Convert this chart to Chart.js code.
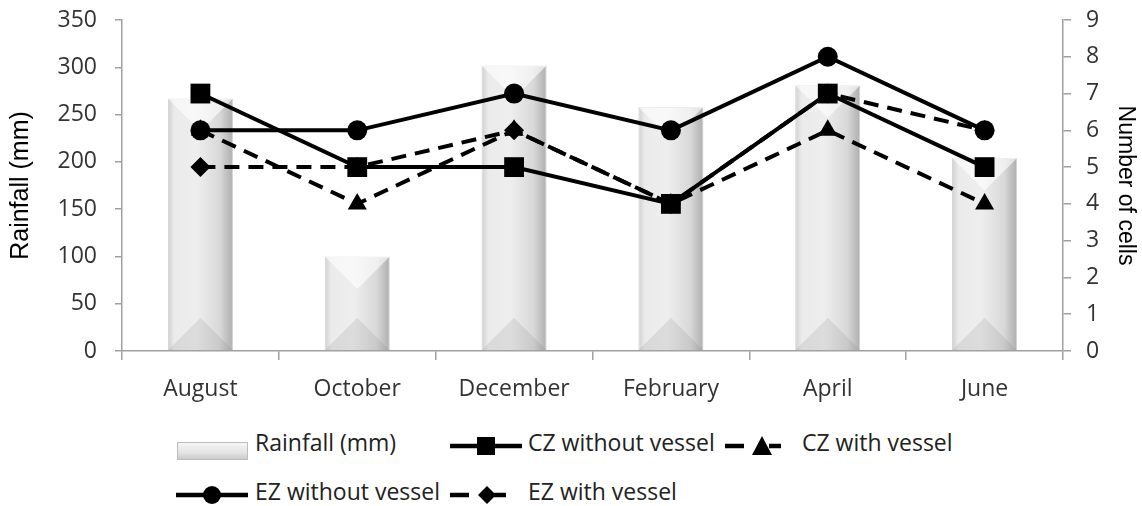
<!DOCTYPE html>
<html>
<head>
<meta charset="utf-8">
<script src="https://cdn.jsdelivr.net/npm/chart.js@4.4.1/dist/chart.umd.min.js"></script>
<style>
  html, body { margin: 0; padding: 0; background: #fff; }
  #wrap { position: relative; width: 1142px; height: 506px; overflow: hidden; }
  #chartBox { position: absolute; left: 0; top: 0; width: 1142px; height: 407px; }
  .legend { position: absolute; left: 0; top: 0; font-family: "Open Sans", sans-serif; font-size: 23px; color: #222; }
  .icon { position: absolute; display: block; }
  .txt { position: absolute; white-space: nowrap; line-height: 30px; }
</style>
</head>
<body>
<div id="wrap">
  <div id="chartBox"><canvas id="rainChart"></canvas></div>
  <div class="legend" id="legend"></div>
</div>
<script>
(() => {
  'use strict'

  // Data
  const months = ['August', 'October', 'December', 'February', 'April', 'June'];
  const rainfall = [267, 100, 302, 258, 281, 204];
  const czWithout = [7, 5, 5, 4, 7, 5];
  const czWith = [6, 4, 6, 4, 6, 4];
  const ezWithout = [6, 6, 7, 6, 8, 6];
  const ezWith = [5, 5, 6, 4, 7, 6];
  const rainTicks = [0, 50, 100, 150, 200, 250, 300, 350];
  const cellTicks = [0, 1, 2, 3, 4, 5, 6, 7, 8, 9];

  const tickFont = { family: '"Open Sans", sans-serif', size: 23 };
  const axisGray = '#a0a0a0';
  const barFrac = 0.415;

  // bar gradient: light middle, grey edges
  const barFill = (c) => {
    const chart = c.chart;
    const xs = chart.scales.x;
    if (!xs || !xs.width) return '#e6e6e6';
    const cx = xs.getPixelForValue(c.dataIndex);
    const half = xs.width / months.length * barFrac / 2;
    if (!isFinite(cx) || !isFinite(half)) return '#e6e6e6';
    const g = chart.ctx.createLinearGradient(cx - half, 0, cx + half, 0);
    g.addColorStop(0, '#cfcfcf');
    g.addColorStop(0.1, '#ebebeb');
    g.addColorStop(0.45, '#eeeeee');
    g.addColorStop(0.8, '#d8d8d8');
    g.addColorStop(1, '#aeaeae');
    return g;
  };

  // beveled ends on the rainfall bars
  const bevel = {
    id: 'bevel',
    afterDatasetDraw(chart, args) {
      if (args.index !== 0) return;
      const ctx = chart.ctx;
      chart.getDatasetMeta(0).data.forEach(bar => {
        const l = bar.x - bar.width / 2, r = bar.x + bar.width / 2;
        const t = bar.y, b = bar.base, d = bar.width / 2;
        ctx.save();
        ctx.fillStyle = 'rgba(255,255,255,0.6)';
        ctx.beginPath();
        ctx.moveTo(l, t); ctx.lineTo(r, t); ctx.lineTo(bar.x, t + d); ctx.closePath();
        ctx.fill();
        ctx.fillStyle = 'rgba(110,110,110,0.14)';
        ctx.beginPath();
        ctx.moveTo(l, b); ctx.lineTo(r, b); ctx.lineTo(bar.x, b - d); ctx.closePath();
        ctx.fill();
        ctx.restore();
      });
    }
  };

  const lineSet = (label, values, style, radius, dashed) => ({
    type: 'line',
    label: label,
    data: values,
    yAxisID: 'y1',
    borderColor: '#000',
    backgroundColor: '#000',
    borderWidth: 4,
    borderDash: dashed ? [15, 9] : [],
    pointStyle: style,
    pointRadius: radius,
    pointBorderWidth: 0,
    tension: 0
  });

  const data = {
    labels: months,
    datasets: [
      {
        type: 'bar',
        label: 'Rainfall (mm)',
        data: rainfall,
        yAxisID: 'y',
        backgroundColor: barFill,
        borderColor: '#d2d2d2',
        borderWidth: 1,
        barPercentage: 0.7,
        categoryPercentage: barFrac / 0.7,
        order: 10
      },
      lineSet('EZ with vessel', ezWith, 'rectRot', 10, true),
      lineSet('CZ with vessel', czWith, 'triangle', 11, true),
      lineSet('CZ without vessel', czWithout, 'rect', 14, false),
      lineSet('EZ without vessel', ezWithout, 'circle', 10, false)
    ]
  };

  // fixed widths; drop the extra top/bottom room Chart.js keeps for tick labels
  const fitY = (w) => (s) => { s.width = w; s.paddingTop = 0; s.paddingBottom = 0; };

  const config = {
    data: data,
    plugins: [bevel],
    options: {
      responsive: true,
      maintainAspectRatio: false,
      animation: false,
      layout: { padding: { top: 20, left: 2, right: 0, bottom: 0 } },
      plugins: {
        legend: { display: false },
        tooltip: { enabled: false }
      },
      scales: {
        x: {
          offset: true,
          afterFit: (s) => { s.height = 56; },
          grid: { display: true, offset: true, drawOnChartArea: false, color: axisGray, lineWidth: 1.5, tickLength: 9 },
          border: { color: axisGray, width: 1.5 },
          ticks: { font: tickFont, color: '#333', padding: 16, maxRotation: 0 }
        },
        y: {
          position: 'left',
          min: 0, max: 350,
          afterFit: fitY(120),
          afterBuildTicks: (ax) => { ax.ticks = rainTicks.map(v => ({ value: v })); },
          grid: { drawOnChartArea: false, color: axisGray, lineWidth: 1.5, tickLength: 7 },
          border: { color: axisGray, width: 1.5 },
          ticks: { font: tickFont, color: '#333', padding: 18 },
          title: {
            display: true, text: 'Rainfall (mm)', color: '#000',
            font: { family: '"Liberation Sans", Arial, sans-serif', size: 25 },
            padding: { top: 4, bottom: 4 }
          }
        },
        y1: {
          position: 'right',
          min: 0, max: 9,
          afterFit: fitY(79),
          afterBuildTicks: (ax) => { ax.ticks = cellTicks.map(v => ({ value: v })); },
          grid: { drawOnChartArea: false, color: axisGray, lineWidth: 1.5, tickLength: 8 },
          border: { color: axisGray, width: 1.5 },
          ticks: { font: tickFont, color: '#333', padding: 15 },
          title: {
            display: true, text: 'Number of cells', color: '#000',
            font: { family: '"Liberation Sans", Arial, sans-serif', size: 23 },
            padding: { top: 3, bottom: 2 }
          }
        }
      }
    }
  };

  new Chart(document.getElementById('rainChart'), config);

  // Legend (HTML, labels taken from the datasets)
  const marker = (shape, cx) => {
    if (shape === 'rect') return '<rect x="' + (cx - 9) + '" y="2" width="18" height="18" fill="#000"/>';
    if (shape === 'circle') return '<circle cx="' + cx + '" cy="11" r="9" fill="#000"/>';
    if (shape === 'triangle') return '<polygon points="' + cx + ',1 ' + (cx + 10) + ',20 ' + (cx - 10) + ',20" fill="#000"/>';
    return '<polygon points="' + cx + ',2 ' + (cx + 9) + ',11 ' + cx + ',20 ' + (cx - 9) + ',11" fill="#000"/>';
  };
  const solidIcon = (shape) =>
    '<svg width="72" height="22"><line x1="0" y1="11" x2="72" y2="11" stroke="#000" stroke-width="4.5"/>' + marker(shape, 36) + '</svg>';
  const dashIcon = (shape) =>
    '<svg width="56" height="22"><line x1="0" y1="11" x2="19" y2="11" stroke="#000" stroke-width="4.5"/>' +
    '<line x1="44" y1="11" x2="56" y2="11" stroke="#000" stroke-width="4.5"/>' + marker(shape, 37) + '</svg>';
  const barIcon = '<svg width="71" height="18"><defs><linearGradient id="lg" x1="0" y1="0" x2="0" y2="1">' +
    '<stop offset="0" stop-color="#f6f6f6"/><stop offset="0.6" stop-color="#e4e4e4"/><stop offset="1" stop-color="#c8c8c8"/></linearGradient></defs>' +
    '<rect x="0.5" y="0.5" width="70" height="17" fill="url(#lg)" stroke="#bdbdbd"/></svg>';

  const items = [
    { ix: 177, iy: 435, icon: barIcon, tx: 255, ty: 443, text: data.datasets[0].label },
    { ix: 450, iy: 432, icon: solidIcon('rect'), tx: 528, ty: 443, text: data.datasets[3].label },
    { ix: 725, iy: 432, icon: dashIcon('triangle'), tx: 802, ty: 443, text: data.datasets[2].label },
    { ix: 176, iy: 481, icon: solidIcon('circle'), tx: 255, ty: 492, text: data.datasets[4].label },
    { ix: 450, iy: 481, icon: dashIcon('rectRot'), tx: 528, ty: 492, text: data.datasets[1].label }
  ];
  const legend = document.getElementById('legend');
  legend.innerHTML = items.map(it =>
    '<div class="icon" style="left:' + it.ix + 'px;top:' + it.iy + 'px">' + it.icon + '</div>' +
    '<div class="txt" style="left:' + it.tx + 'px;top:' + (it.ty - 16) + 'px">' + it.text + '</div>'
  ).join('');
})()
</script>
</body>
</html>
